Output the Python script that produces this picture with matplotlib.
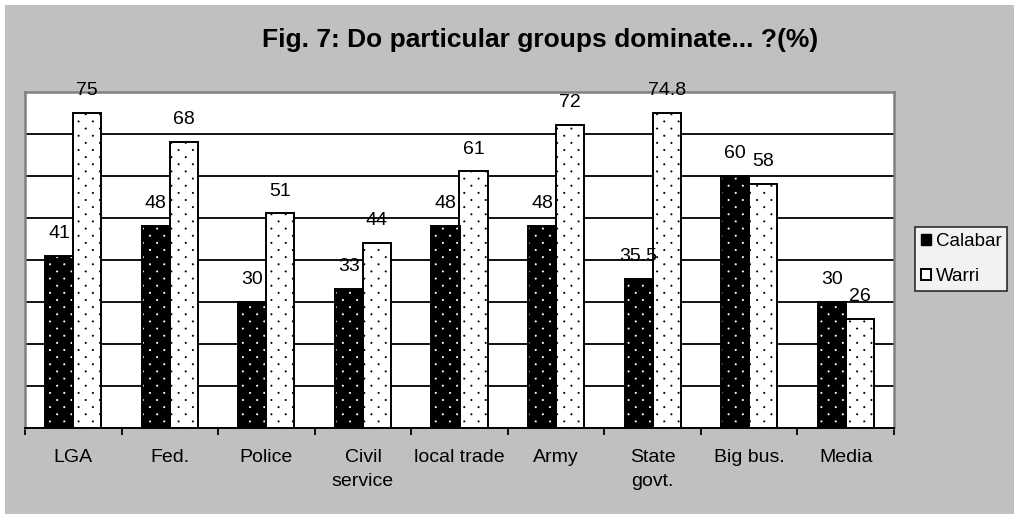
import numpy as np
import matplotlib.pyplot as plt
import matplotlib.patches as mpatches
from matplotlib import hatch as mhatch
from matplotlib.path import Path

plt.rcParams["font.family"] = ["Liberation Sans", "DejaVu Sans"]
plt.rcParams["hatch.linewidth"] = 0.6

categories = ["LGA", "Fed.", "Police", "Civil\nservice", "local trade",
              "Army", "State\ngovt.", "Big bus.", "Media"]
calabar = [41, 48, 30, 33, 48, 48, 35.5, 60, 30]
warri = [75, 68, 51, 44, 61, 72, 74.8, 58, 26]
series_names = ["Calabar", "Warri"]

bg_col = "#c0c0c0"
frame_col = "#808080"


class DiamondDots(mhatch.HatchPatternBase):
    """'.' hatch with dots on a staggered grid, rows twice as close as columns."""
    rows, cols, radius = 14, 7, 0.006

    def __init__(self, hatch, density):
        pts = []
        if "." in hatch:
            for i in range(self.rows + 1):
                y = i / self.rows
                if i % 2 == 0:
                    xs = np.linspace(0, 1, self.cols + 1)
                else:
                    xs = (np.arange(self.cols) + 0.5) / self.cols
                pts.extend((xx, y) for xx in xs)
        self.centres = np.array(pts).reshape(-1, 2)
        circ = Path.unit_circle()
        self.shape_vertices = circ.vertices * self.radius
        self.shape_codes = circ.codes
        self.num_vertices = len(self.centres) * len(self.shape_vertices)

    def set_vertices_and_codes(self, vertices, codes):
        n = len(self.shape_vertices)
        for k, c in enumerate(self.centres):
            vertices[k * n:(k + 1) * n] = self.shape_vertices + c
            codes[k * n:(k + 1) * n] = self.shape_codes


mhatch._hatch_types[:] = [DiamondDots if t is mhatch.SmallFilledCircles else t
                          for t in mhatch._hatch_types]

fig = plt.figure(figsize=(10.14, 5.14), dpi=100)
fig.patch.set_facecolor("white")
# grey chart area, leaving a thin white strip on the top and left
fig.add_artist(mpatches.Rectangle((5 / 1014, 0), 1, 1 - 5 / 514,
                                  transform=fig.transFigure,
                                  facecolor=bg_col, edgecolor="none", zorder=-10))

ax = fig.add_axes([25 / 1014, 1 - 428 / 514, 869 / 1014, 336.5 / 514])
ax.set_facecolor("white")

x = np.arange(len(categories))
w = 0.29


def dotted_bars(xpos, vals, face, dots):
    # fill + dot texture first, then a plain black outline on top
    ax.bar(xpos, vals, w, color=face, edgecolor=dots, hatch=".",
           linewidth=0, zorder=3)
    return ax.bar(xpos, vals, w, fill=False, edgecolor="black",
                  linewidth=1.4, zorder=4)


b1 = dotted_bars(x - w / 2, calabar, "black", "white")
b2 = dotted_bars(x + w / 2, warri, "white", "black")

for bars, vals in ((b1, calabar), (b2, warri)):
    for rect, v in zip(bars, vals):
        ax.annotate(f"{v:g}", (rect.get_x() + rect.get_width() / 2, v),
                    xytext=(0, 10), textcoords="offset points",
                    ha="center", va="bottom", fontsize=14)

ax.set_xlim(-0.5, len(categories) - 0.5)
ax.set_ylim(0, 80)
ax.set_yticks(np.arange(0, 81, 10))
ax.set_yticklabels([])
ax.tick_params(axis="y", length=0)
ax.yaxis.grid(True, color="black", linewidth=1.3)
ax.set_axisbelow(True)

ax.set_xticks(x)
ax.set_xticklabels(categories, fontsize=14, linespacing=1.55, va="top")
ax.tick_params(axis="x", which="major", length=0, pad=15)
ax.set_xticks(np.arange(-0.5, len(categories), 1), minor=True)
ax.tick_params(axis="x", which="minor", length=5, width=1.3, color="black",
               direction="out")

for side in ("top", "left", "right"):
    ax.spines[side].set_color(frame_col)
    ax.spines[side].set_linewidth(1.8)
ax.spines["bottom"].set_color("black")
ax.spines["bottom"].set_linewidth(1.4)

fig.text(540 / 1014, 1 - 40 / 514, "Fig. 7: Do particular groups dominate... ?(%)",
         ha="center", va="center", fontsize=19, fontweight="bold")

handles = [mpatches.Patch(facecolor="black", edgecolor="black"),
           mpatches.Patch(facecolor="white", edgecolor="black", linewidth=1.4)]
leg = fig.legend(handles, series_names, loc="center",
                 bbox_to_anchor=(961 / 1014, 1 - 259 / 514),
                 fontsize=13.5, frameon=True, fancybox=False,
                 handlelength=0.55, handleheight=0.55, handletextpad=0.25,
                 borderpad=0.3, labelspacing=0.95, borderaxespad=0)
leg.get_frame().set_edgecolor("black")
leg.get_frame().set_linewidth(1.2)

fig.savefig("out.png", dpi=100, facecolor=fig.get_facecolor())
